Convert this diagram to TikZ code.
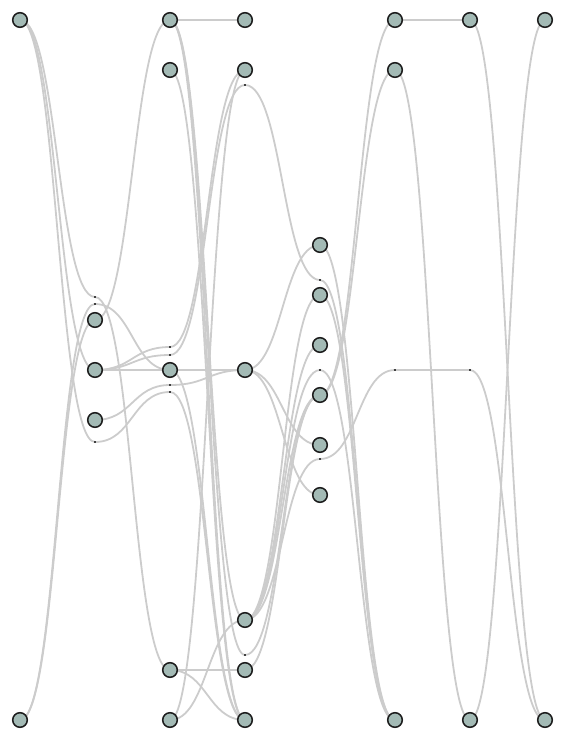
\documentclass[tikz,border=0pt]{standalone}
\usetikzlibrary{calc}
\pgfdeclarelayer{bg}
\pgfsetlayers{bg,main}
\definecolor{nodefill}{RGB}{163,186,181}
\definecolor{nodeline}{RGB}{28,28,28}
\definecolor{edgecol}{RGB}{204,204,204}
\tikzset{
  vert/.style={circle,draw=nodeline,fill=nodefill,line width=1.5pt,minimum size=14.6pt,inner sep=0pt},
  dum/.style={rectangle,fill=black!75,minimum size=1.8pt,inner sep=0pt},
  lk/.style={to path={let \p1=(\tikztostart), \p2=(\tikztotarget) in .. controls ({0.5*\x1+0.5*\x2},\y1) and ({0.5*\x1+0.5*\x2},\y2) .. (\tikztotarget)}},
  edge/.style={draw=edgecol,line width=1.8pt}
}
\begin{document}
\begin{tikzpicture}[x=1pt,y=-1pt]
\useasboundingbox (0,0) rectangle (565,740);
% column 0
\node[vert] (a1) at (20,20) {};
\node[vert] (a2) at (20,720) {};
% column 1
\node[vert] (b1) at (95,320) {};
\node[vert] (b2) at (95,370) {};
\node[vert] (b3) at (95,420) {};
\node[dum] (db1) at (95,297) {};
\node[dum] (db2) at (95,304) {};
\node[dum] (db3) at (95,442) {};
% column 2
\node[vert] (c1) at (170,20) {};
\node[vert] (c2) at (170,70) {};
\node[vert] (c3) at (170,370) {};
\node[vert] (c4) at (170,670) {};
\node[vert] (c5) at (170,720) {};
\node[dum] (dc1) at (170,347) {};
\node[dum] (dc2) at (170,355) {};
\node[dum] (dc3) at (170,385) {};
\node[dum] (dc4) at (170,392) {};
% column 3
\node[vert] (d1) at (245,20) {};
\node[vert] (d2) at (245,70) {};
\node[vert] (d3) at (245,370) {};
\node[vert] (d4) at (245,620) {};
\node[vert] (d5) at (245,670) {};
\node[vert] (d6) at (245,720) {};
\node[dum] (dd1) at (245,85) {};
\node[dum] (dd2) at (245,655) {};
% column 4
\node[vert] (e1) at (320,245) {};
\node[vert] (e2) at (320,295) {};
\node[vert] (e3) at (320,345) {};
\node[vert] (e4) at (320,395) {};
\node[vert] (e5) at (320,445) {};
\node[vert] (e6) at (320,495) {};
\node[dum] (de1) at (320,280) {};
\node[dum] (de2) at (320,370) {};
\node[dum] (de3) at (320,459) {};
% column 5
\node[vert] (f1) at (395,20) {};
\node[vert] (f2) at (395,70) {};
\node[vert] (f3) at (395,720) {};
\node[dum] (df1) at (395,370) {};
% column 6
\node[vert] (g1) at (470,20) {};
\node[vert] (g2) at (470,720) {};
\node[dum] (dg1) at (470,370) {};
% column 7
\node[vert] (h1) at (545,20) {};
\node[vert] (h2) at (545,720) {};

\begin{pgfonlayer}{bg}
\foreach \s/\t in {a1/db1,a1/b2,a1/db3,a2/b1,a2/db2,
  b1/c1,db1/c4,db2/c3,b2/dc1,b2/dc2,b2/c3,b3/dc3,db3/dc4,
  c1/d1,c1/d4,c1/dd2,c1/d6,c2/d6,dc1/d2,dc2/dd1,c3/d3,c3/d6,dc3/d3,dc4/d6,c4/d5,c4/d6,c5/d4,c5/d2,
  d3/e1,d3/e5,d3/e6,dd1/de1,d4/e2,d4/e3,d4/de2,d4/e4,d4/de3,dd2/e4,d5/e4,
  e1/f3,de1/f3,e2/f3,de2/f3,e4/f1,e4/f2,de3/df1,
  f1/g1,f2/g2,df1/dg1,
  g1/h2,dg1/h2,h1/g2}
  \path[edge] (\s.center) to[lk] (\t.center);
\end{pgfonlayer}
\end{tikzpicture}
\end{document}
